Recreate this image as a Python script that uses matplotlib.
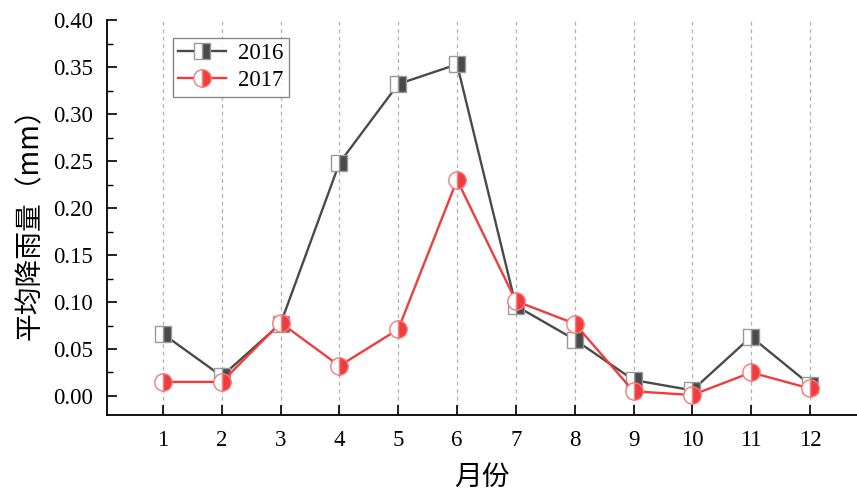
import matplotlib
matplotlib.use("Agg")
import matplotlib.pyplot as plt
from matplotlib.ticker import MultipleLocator, FuncFormatter

months = [1, 2, 3, 4, 5, 6, 7, 8, 9, 10, 11, 12]
rain_2016 = [0.066, 0.021, 0.077, 0.248, 0.332, 0.353, 0.096, 0.060, 0.017, 0.006, 0.063, 0.012]
rain_2017 = [0.015, 0.015, 0.078, 0.032, 0.071, 0.230, 0.101, 0.077, 0.005, 0.001, 0.025, 0.008]

plt.rcParams['font.family'] = ['Liberation Serif', 'Noto Sans CJK SC', 'DejaVu Sans']

fig = plt.figure(figsize=(8.57, 4.92), dpi=100)
ax = fig.add_axes([0.125, 0.157, 0.875, 0.802])

ax.plot(months, rain_2016, color='#4a4a4a', lw=1.7, marker='s', markersize=11.5,
        fillstyle='right', markerfacecolor='#4a4a4a', markerfacecoloralt='white',
        markeredgecolor='#9a9a9a', markeredgewidth=1.0, label='2016', zorder=3)
ax.plot(months, rain_2017, color='#f03c3c', lw=1.7, marker='o', markersize=12.5,
        fillstyle='right', markerfacecolor='#f03c3c', markerfacecoloralt='white',
        markeredgecolor='#f47c7c', markeredgewidth=1.0, label='2017', zorder=4)

ax.set_xlim(0.05, 12.8)
ax.set_ylim(-0.02, 0.40)
ax.set_xticks(months)
ax.yaxis.set_major_locator(MultipleLocator(0.05))
ax.yaxis.set_minor_locator(MultipleLocator(0.025))
ax.yaxis.set_major_formatter(FuncFormatter(lambda v, p: '%.2f' % v))
ax.tick_params(axis='both', which='major', direction='in', length=7, width=1.2, labelsize=16.5)
ax.tick_params(axis='y', which='minor', direction='in', length=4, width=1.0)
ax.tick_params(axis='x', pad=11)
ax.tick_params(axis='y', pad=10)

ax.xaxis.grid(True, linestyle=(0, (3, 3)), color='#b0b0b0', lw=0.9)
for s in ['top', 'right']:
    ax.spines[s].set_visible(False)
for s in ['left', 'bottom']:
    ax.spines[s].set_linewidth(1.3)

ax.set_xlabel('月份', fontsize=20, family=['Noto Sans CJK SC'], labelpad=8)
ax.set_ylabel('平均降雨量（mm）', fontsize=20, family=['Noto Sans CJK SC'], labelpad=6)

leg = ax.legend(loc='upper left', bbox_to_anchor=(0.072, 0.985), fontsize=16.5,
                frameon=True, fancybox=False, edgecolor='#6a6a6a', handlelength=2.1,
                borderpad=0.25, labelspacing=0.25, handletextpad=0.5)
leg.get_frame().set_linewidth(1.0)

fig.savefig('out.png', dpi=100)
